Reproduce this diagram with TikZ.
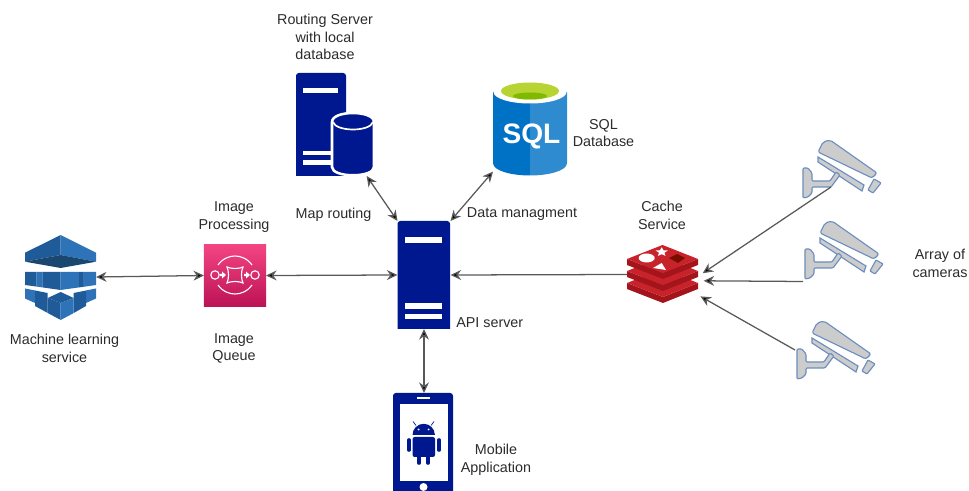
\documentclass[tikz,border=0pt]{standalone}
\usepackage{fontspec}
\setmainfont{Liberation Sans}
\usetikzlibrary{arrows.meta,shapes.geometric}

\definecolor{navy}{HTML}{00188F}
\definecolor{sqlblue}{HTML}{0072C6}
\definecolor{sqllight}{HTML}{2E8BD0}
\definecolor{sqlgreen}{HTML}{B8D432}
\definecolor{sqlgreendk}{HTML}{7FBA00}
\definecolor{mlblue}{HTML}{2E73B8}
\definecolor{mlmid}{HTML}{205B99}
\definecolor{mldark}{HTML}{1A476F}
\definecolor{queuetop}{HTML}{F34482}
\definecolor{queuebot}{HTML}{BC1356}
\definecolor{redistop}{HTML}{C8232B}
\definecolor{redisside}{HTML}{A3141B}
\definecolor{redisdark}{HTML}{7A0C00}
\definecolor{camfill}{HTML}{CCCCCC}
\definecolor{camline}{HTML}{6C8EBF}
\definecolor{labelgray}{HTML}{2B2B2B}

\begin{document}
\begin{tikzpicture}[
    x=0.025cm, y=-0.025cm,
    label/.style={font=\fontsize{10.2}{12.5}\selectfont, text=labelgray, align=center, inner sep=0pt},
    icon/.style={rectangle, inner sep=0pt, outer sep=0pt},
    link/.style={{Stealth[length=7.5pt,width=7pt,fill=black]}-{Stealth[length=7.5pt,width=7pt,fill=black]}, draw=black!65, line width=0.9pt},
    feed/.style={-{Stealth[length=7.5pt,width=7pt,fill=black]}, draw=black!65, line width=0.9pt},
    campart/.style={fill=camfill, draw=camline, line width=0.8pt},
    camera/.pic={
        \filldraw[campart, rounded corners=1.5pt]
            (823,142) -- (830,140) -- (877,173) -- (872,178) -- (818,152) -- cycle;
        \filldraw[campart]
            (818,157) -- (864,185) -- (862,191) -- (818,162) -- cycle;
        \filldraw[campart, rounded corners=0.5pt]
            (874,179) -- (881,183) -- (873,193) -- (868,190) -- cycle;
        \filldraw[campart, rounded corners=0.8pt]
            (803,168) -- (808,168) -- (812,173) -- (812,181) -- (830,181) -- (836,172) -- (840,175)
            -- (831,187) -- (812,187) -- (812,193) -- (808,197) -- (803,198) -- cycle;
    }
]
\useasboundingbox (0,0) rectangle (969,491);
\clip (0,0) rectangle (969,491);

% === Machine learning service ===
\node[icon, minimum width=1.775cm, minimum height=2.15cm] (mlservice) at (60.5,277) {};
\fill[mlmid] (60.7,235) -- (25,252.7) -- (25,261.7) -- (60.7,255) -- cycle;
\fill[mlblue] (60.7,235) -- (96,252.7) -- (96,261.7) -- (60.7,255) -- cycle;
\fill[mldark] (25,261.7) -- (60.7,255) -- (96,261.7) -- (60.7,268) -- cycle;
\fill[mlmid] (25,272) -- (36.7,272) -- (36.7,286.6) -- (25,285) -- cycle;
\fill[mlblue] (36.7,272) -- (42.3,272) -- (42.3,287.4) -- (36.7,286.6) -- cycle;
\fill[mlmid] (42.3,272) -- (60.7,272) -- (60.7,290) -- (42.3,287.4) -- cycle;
\fill[mlblue] (60.7,272) -- (79,272) -- (79,287.4) -- (60.7,290) -- cycle;
\fill[mlmid] (79,272) -- (83,272) -- (83,286.9) -- (79,287.4) -- cycle;
\fill[mlblue] (83,272) -- (96,272) -- (96,285) -- (83,286.9) -- cycle;
\fill[mlblue] (25,288.5) -- (35,290.5) -- (35,303) -- (25,298.5) -- cycle;
\fill[mlmid] (35,290.5) -- (47.7,293) -- (47.7,313) -- (35,306) -- cycle;
\fill[mlblue] (96,288.5) -- (86,290.5) -- (86,303) -- (96,298.5) -- cycle;
\fill[mlmid] (86,290.5) -- (73.7,293) -- (73.7,313) -- (86,306) -- cycle;
\fill[mlmid] (60.7,292) -- (47.7,298) -- (60.7,303) -- (73.7,298) -- cycle;
\fill[mlmid] (47.7,298) -- (60.7,303) -- (60.7,320) -- (47.7,313) -- cycle;
\fill[mlblue] (73.7,298) -- (60.7,303) -- (60.7,320) -- (73.7,313) -- cycle;
\node[label] (mllabel) at (64.5,348.5) {Machine learning\\service};

% === Image queue ===
\node[icon, top color=queuetop, bottom color=queuebot, minimum width=1.55cm, minimum height=1.525cm] (queue) at (235,275.5) {};
\draw[white, line width=0.8pt] (218,265) .. controls (223,258) and (230,256) .. (235,256) .. controls (240,256) and (247,258) .. (252,265);
\draw[white, line width=0.8pt] (218,285) .. controls (223,292) and (230,294) .. (235,294) .. controls (240,294) and (247,292) .. (252,285);
\draw[white, line width=0.8pt] (215,275) circle (4.2);
\draw[white, line width=0.8pt] (255,275) circle (4.2);
\draw[white, line width=0.8pt] (227,267) .. controls (231,269) and (239,269) .. (243,267) .. controls (241,271) and (241,279) .. (243,283) .. controls (239,281) and (231,281) .. (227,283) .. controls (229,279) and (229,271) .. (227,267) -- cycle;
\fill[white] (220,273.8) -- (222,273.8) -- (222,271.5) -- (226,275) -- (222,278.5) -- (222,276.2) -- (220,276.2) -- cycle;
\fill[white] (244,273.8) -- (246,273.8) -- (246,271.5) -- (250,275) -- (246,278.5) -- (246,276.2) -- (244,276.2) -- cycle;
\node[label] (queuetitle) at (234,217) {Image\\Processing};
\node[label] (queuelabel) at (234,348.5) {Image\\Queue};

% === API server ===
\node[icon, minimum width=1.325cm, minimum height=2.7cm] (api) at (424,275) {};
\fill[navy, rounded corners=2pt] (397.5,329) [sharp corners] -- (397.5,329) [rounded corners=2pt] -- (397.5,221) -- (450,221) [sharp corners] -- (450,329) -- cycle;
\fill[white] (405,237.5) rectangle (442,243);
\fill[white] (405,303.5) rectangle (442,309);
\fill[white] (405,314) rectangle (442,319);
\node[label, anchor=west] (apilabel) at (456,323) {API server};

% === Routing server ===
\node[icon, minimum width=1.925cm, minimum height=2.575cm] (routing) at (334.5,124.5) {};
\fill[navy, rounded corners=2pt] (296,176) [sharp corners] -- (296,176) [rounded corners=2pt] -- (296,73) -- (346,73) [sharp corners] -- (346,176) -- cycle;
\fill[white] (303,88) rectangle (338,93);
\fill[white] (303,151) rectangle (332,155.5);
\fill[white] (303,160.5) rectangle (332,165);
\filldraw[fill=navy, draw=white, line width=1.8pt] (332,122) .. controls (332,110) and (374,110) .. (374,122) -- (374,167) .. controls (374,178) and (332,178) .. (332,167) -- cycle;
\draw[white, line width=1.2pt] (333,122) .. controls (336,132) and (370,132) .. (373,122);
\node[label] (routinglabel) at (325,37) {Routing Server\\with local\\database};
\node[label] (maplabel) at (333.5,215) {Map routing};

% === SQL database ===
\node[icon, minimum width=1.85cm, minimum height=2.375cm] (sql) at (530,127.5) {};
\fill[sqlblue] (530,86) -- (493,92) -- (493,163) .. controls (493,171) and (512,175.5) .. (530,175.5) -- cycle;
\fill[sqllight] (530,86) -- (567,92) -- (567,163) .. controls (567,171) and (548,175.5) .. (530,175.5) -- cycle;
\fill[white] (530,92) ellipse [x radius=36.5, y radius=11.5];
\fill[sqlgreen] (530,91) ellipse [x radius=29, y radius=8.5];
\fill[sqlgreendk] (530,96) ellipse [x radius=17, y radius=3.5];
\node[icon, text=white, font=\fontsize{20}{20}\selectfont\bfseries] (sqltext) at (531.5,136) {SQL};
\node[label] (sqllabel) at (603.5,133) {SQL\\Database};
\node[label] (datalabel) at (522,214.5) {Data managment};

% === Mobile application ===
\node[icon, minimum width=1.5cm, minimum height=2.45cm] (mobile) at (424,442) {};
\fill[navy, rounded corners=2pt] (393,500) -- (393,393) -- (453,393) -- (453,500) -- cycle;
\fill[white] (400,404) rectangle (448,481);
\fill[white] (417,397) rectangle (430,399.5);
\fill[white] (423.5,487) circle (4);
\fill[navy] (412.5,435) arc [start angle=180, end angle=360, x radius=11.2, y radius=11.2] -- cycle;
\draw[navy, line width=0.5pt] (416,425.5) -- (413,421.5);
\draw[navy, line width=0.5pt] (431,425.5) -- (434,421.5);
\fill[white] (418.5,429.5) circle (1);
\fill[white] (428.5,429.5) circle (1);
\fill[navy, rounded corners=1.5pt] (412.5,437) rectangle (435,457);
\draw[navy, line width=2.6pt, line cap=round] (409,440) -- (409,450);
\draw[navy, line width=2.6pt, line cap=round] (439,440) -- (439,450);
\draw[navy, line width=2.6pt, line cap=round] (419,455) -- (419,463);
\draw[navy, line width=2.6pt, line cap=round] (428,455) -- (428,463);
\node[label] (mobilelabel) at (496,460) {Mobile\\Application};

% === Cache service ===
\node[icon, minimum width=1.775cm, minimum height=1.475cm] (redis) at (662.5,274.5) {};
\foreach \o in {24,12,0} {
    \fill[redisside] (627,259+\o) -- (663,273+\o) -- (698,259+\o) -- (698,265+\o) -- (663,279+\o) -- (627,265+\o) -- cycle;
    \fill[redistop] (627,259+\o) -- (662.5,245+\o) -- (698,259+\o) -- (663,273+\o) -- cycle;
}
\fill[white] (646.7,258) ellipse [x radius=8, y radius=4.5];
\node[icon, star, star points=5, star point ratio=2.2, fill=white, minimum size=0.32cm, yscale=0.75] (redisstar) at (661.7,252) {};
\fill[white] (653,268) -- (666,270) -- (661.7,263) -- cycle;
\fill[redisdark] (669,258) -- (677,254) -- (685,258) -- (678,263) -- cycle;
\node[label] (redislabel) at (662,215.5) {Cache\\Service};

% === Cameras ===
\pic at (0,0) {camera};
\pic at (2,81) {camera};
\pic at (-6,181) {camera};
\coordinate (cama) at (831,187);
\coordinate (camb) at (803,281.5);
\coordinate (camc) at (795,350);
\node[label] (camlabel) at (940,263.5) {Array of\\cameras};

% Arrows
\draw[link] (mlservice.east) -- (queue.west);
\draw[link] (queue.east) -- (api.west);
\draw[link] (routing.-58) -- (api.north west);
\draw[link] (sql.230) -- (api.north east);
\draw[link] (api.south) -- (mobile.north);
\draw[feed] (redis.west) -- (api.east);
\draw[feed, shorten >=4pt] (cama) -- (redis.-3);
\draw[feed, shorten >=4pt] (camb) -- (redis.-10);
\draw[feed, shorten >=2pt] (camc) -- (redis.-30);

\end{tikzpicture}
\end{document}
